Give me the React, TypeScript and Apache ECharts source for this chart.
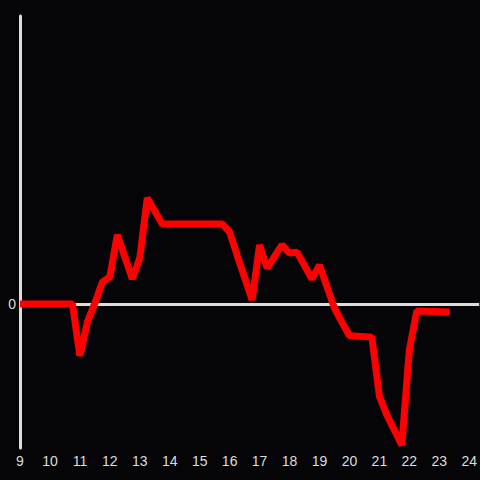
import React, { useEffect, useRef } from "react";
import * as echarts from "echarts";

const hours = [
  9, 10.75, 11, 11.25, 11.5, 11.75, 12, 12.25, 12.75, 13, 13.25, 13.75, 15.75, 16, 16.25,
  16.75, 17, 17.25, 17.75, 18, 18.25, 18.75, 19, 19.5, 19.75, 20, 20.75, 21, 21.25, 21.75,
  22, 22.25, 23.35,
];
const values = [
  0, 0, -18, -6.3, 0.3, 7.6, 9.4, 24, 8.7, 16, 36.8, 27.8, 27.8, 25, 17,
  1.4, 20.5, 12.5, 20.5, 17.7, 18, 8.7, 13.5, -1.4, -6.3, -11, -11.5, -32, -38.5, -49,
  -16, -2.4, -2.8,
];

const xMin = 9;
const xMax = 24 + 1 / 3;
const yMin = -50;
const yMax = 100;

export default function App() {
  const ref = useRef<HTMLDivElement>(null);
  useEffect(() => {
    if (!ref.current) return;
    const chart = echarts.init(ref.current, undefined, { renderer: "svg" });
    const data = hours.map((h, i) => [h, values[i]]);
    chart.setOption({
      animation: false,
      backgroundColor: "#050407",
      grid: { left: 20, right: 0, top: 16, bottom: 32 },
      xAxis: {
        type: "value",
        min: xMin,
        max: xMax,
        interval: 1,
        axisLine: { show: false },
        axisTick: { show: false },
        splitLine: { show: false },
        axisLabel: {
          color: "#dddddd",
          fontSize: 14,
          fontFamily: "Liberation Sans",
          margin: 6,
          showMaxLabel: false,
          formatter: (v: number) => (Number.isInteger(v) ? String(v) : ""),
        },
      },
      yAxis: {
        type: "value",
        min: yMin,
        max: yMax,
        interval: 50,
        axisLine: { show: true, onZero: false, lineStyle: { color: "#dddddd", width: 3 } },
        axisTick: { show: false },
        splitLine: { show: false },
        axisLabel: {
          color: "#dddddd",
          fontSize: 14,
          fontFamily: "Liberation Sans",
          margin: 4,
          formatter: (v: number) => (v === 0 ? "0" : ""),
        },
      },
      series: [
        {
          type: "line",
          data,
          symbol: "none",
          lineStyle: { color: "#ff0000", width: 7 },
          markLine: {
            silent: true,
            symbol: "none",
            label: { show: false },
            lineStyle: { color: "#dddddd", width: 3, type: "solid" },
            data: [{ yAxis: 0 }],
            z: 1,
          },
          z: 3,
        },
      ],
    });
    return () => chart.dispose();
  }, []);
  return <div ref={ref} style={{ width: 480, height: 480, position: "absolute", left: 0, top: 0 }} />;
}
